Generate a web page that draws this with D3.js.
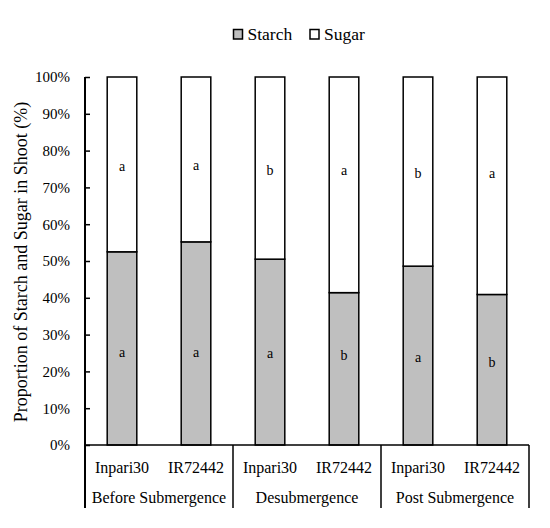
<!DOCTYPE html>
<html><head><meta charset="utf-8">
<script src="https://cdn.jsdelivr.net/npm/d3@7"></script>
<style>body{margin:0;background:#fff}svg{display:block}text{font-family:"Liberation Serif",serif;fill:#000}</style>
</head><body><svg id="c" width="550" height="528"></svg>
<script>
const groups = ["Before Submergence", "Desubmergence", "Post Submergence"];
const varieties = ["Inpari30", "IR72442"];
const categories = ["Before Submergence|Inpari30", "Before Submergence|IR72442", "Desubmergence|Inpari30", "Desubmergence|IR72442", "Post Submergence|Inpari30", "Post Submergence|IR72442"];
const starch = [52.5, 55.2, 50.5, 41.4, 48.6, 40.9];
const sugar = starch.map(v => 100 - v);
const starchLetters = ["a", "a", "a", "b", "a", "b"];
const sugarLetters = ["a", "a", "b", "a", "b", "a"];
const starchLetterAt = [25.1, 25.1, 24.9, 24.2, 23.9, 22.5];
const sugarLetterAt = [75.6, 76.0, 74.7, 74.7, 73.9, 73.9];
const yTicks = [0,10,20,30,40,50,60,70,80,90,100];
const seriesNames = ["Starch", "Sugar"];
const colors = {Starch: "#bfbfbf", Sugar: "#ffffff"};

const svg = d3.select("#c");
const m = {l:85, t:77}, W = 444, H = 368;
const g = svg.append("g").attr("transform", `translate(${m.l},${m.t})`);
const x = d3.scaleBand().domain(categories).range([0, W]).paddingInner(0.6).paddingOuter(0.3);
const y = d3.scaleLinear().domain([0, 100]).range([H, 0]);

// bars
const stackData = categories.map((c, i) => ({cat: c, Starch: starch[i], Sugar: sugar[i]}));
const stacked = d3.stack().keys(seriesNames)(stackData);
stacked.forEach(s => {
  g.append("g").selectAll("rect").data(s).join("rect")
    .attr("x", d => x(d.data.cat))
    .attr("width", x.bandwidth())
    .attr("y", d => y(d[1]))
    .attr("height", d => y(d[0]) - y(d[1]))
    .attr("fill", colors[s.key])
    .attr("stroke", "#000").attr("stroke-width", 1.5);
});

// letters
categories.forEach((c, i) => {
  const cx = x(c) + x.bandwidth()/2;
  g.append("text").attr("x", cx).attr("y", y(starchLetterAt[i])).attr("text-anchor","middle").attr("dy","0.32em").attr("fill","#000").style("font-size","14px").text(starchLetters[i]);
  g.append("text").attr("x", cx).attr("y", y(sugarLetterAt[i])).attr("text-anchor","middle").attr("dy","0.32em").attr("fill","#000").style("font-size","14px").text(sugarLetters[i]);
});

// y axis
const ya = g.append("g").call(d3.axisLeft(y).tickValues(yTicks).tickFormat(d => d + "%").tickSize(-5).tickPadding(15));
ya.select(".domain").remove();
ya.selectAll(".tick line").attr("stroke","#000").attr("stroke-width",1.5);
ya.selectAll("text").style("font-size","15px").style("font-family","Liberation Serif").attr("fill","#000");
g.append("line").attr("x1",0).attr("x2",0).attr("y1",0).attr("y2",H+63).attr("stroke","#000").attr("stroke-width",2);
// x baseline
g.append("line").attr("x1",0).attr("x2",W).attr("y1",H).attr("y2",H).attr("stroke","#000").attr("stroke-width",1.5);

// group separators
const gw = W / groups.length;
groups.forEach((gr, i) => {
  g.append("line").attr("x1",(i+1)*gw).attr("x2",(i+1)*gw).attr("y1",H).attr("y2",H+63).attr("stroke","#000").attr("stroke-width",1.5);
  g.append("text").attr("x", i*gw + gw/2).attr("y", H+58).attr("text-anchor","middle").attr("fill","#000").style("font-size","16px").text(gr);
});
categories.forEach((c, i) => {
  g.append("text").attr("x", x(c)+x.bandwidth()/2).attr("y", H+28).attr("text-anchor","middle").attr("fill","#000").style("font-size","16px").text(c.split("|")[1]);
});

// y title
svg.append("text").attr("transform", `translate(27,262) rotate(-90)`).attr("text-anchor","middle").attr("fill","#000").style("font-size","18px").text("Proportion of Starch and Sugar in Shoot (%)");

// legend
const lg = svg.append("g");
const legX = [233.5, 310];
seriesNames.forEach((s, i) => {
  lg.append("rect").attr("x", legX[i]).attr("y", 29.5).attr("width", 9).attr("height", 9.5).attr("fill", colors[s]).attr("stroke","#000").attr("stroke-width",1.5);
  lg.append("text").attr("x", legX[i]+14).attr("y", 39.5).attr("fill","#000").style("font-size","17.5px").text(s);
});
</script></body></html>
